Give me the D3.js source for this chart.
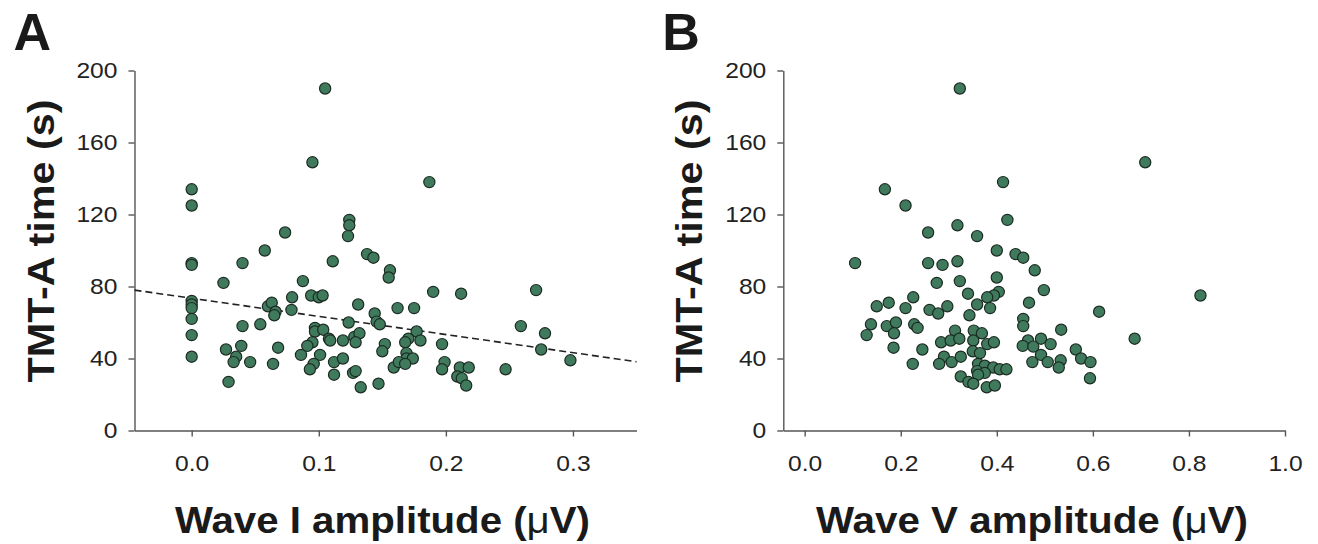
<!DOCTYPE html>
<html>
<head>
<meta charset="utf-8">
<script src="https://cdn.jsdelivr.net/npm/d3@7"></script>
<style>
  body { margin: 0; background: #fff; }
  svg { display: block; font-family: "Liberation Sans", Arial, sans-serif; }
  .axis path, .axis line { stroke: #555; stroke-width: 1.4; }
  .axis text { fill: #222; font-size: 22px; }
  .title { font-weight: bold; fill: #1a1a1a; font-size: 37px; }
  .letter { font-weight: bold; fill: #1a1a1a; font-size: 52px; }
</style>
</head>
<body>
<div id="container"></div>
<script>
// panel A: Wave I amplitude vs TMT-A time
var waveI = [0.105, 0.095, 0, 0, 0.0735, 0.124, 0.124, 0.123, 0.0575, 0.138, 0.187,
  0, 0, 0.040, 0.143, 0.111, 0.156, 0.155, 0.025, 0.0875, 0, 0, 0, 0, 0, 0,
  0.094, 0.100, 0.103, 0.079, 0.0785, 0.060, 0.063, 0.066, 0.065, 0.131, 0.144, 0.1455, 0.148, 0.1235,
  0.040, 0.054, 0.097, 0.097, 0.1035, 0.108, 0.109, 0.119, 0.095, 0.091, 0.128, 0.132, 0.129, 0.152,
  0.150, 0.027, 0.039, 0.035, 0.033, 0.046, 0.068, 0.064, 0.086, 0.101, 0.096, 0.093, 0.112, 0.119,
  0.112, 0.127, 0.129, 0.029, 0.133, 0.147, 0.159,
  0.190, 0.212, 0.271, 0.162, 0.175, 0.259, 0.278, 0.177, 0.180, 0.1705, 0.168, 0.197, 0.275, 0.298,
  0.169, 0.169, 0.174, 0.163, 0.168, 0.199, 0.197, 0.211, 0.218, 0.209, 0.2125, 0.216, 0.247];
var tmtA = [190, 149, 134, 125, 110, 117, 114, 108, 100, 98, 138,
  93, 92, 93, 96, 94, 89, 85, 82, 83, 72, 70, 68, 62, 53, 41,
  75, 74, 75, 74, 67, 69, 71, 66, 64, 70, 65, 60.5, 59, 60,
  58, 59, 57, 55, 56, 51, 50, 50, 49, 47, 52, 54, 49, 48,
  44, 45, 47, 41, 38, 38, 46, 37, 42, 42, 37, 34, 38, 40,
  31, 32, 33, 27, 24, 26, 35,
  77, 76, 78, 68, 68, 58, 54, 55, 50, 51, 49, 48, 45, 39,
  43, 40, 40, 38, 37, 38, 34, 35, 35, 30, 29, 25, 34];

// panel B: Wave V amplitude vs TMT-A time
var waveV = [0.323, 0.167, 0.210, 0.413, 0.257, 0.318, 0.422, 0.359, 0.400, 0.439, 0.709,
  0.455, 0.105, 0.257, 0.287, 0.318, 0.400, 0.275, 0.323, 0.340, 0.404, 0.394, 0.380, 0.359, 0.386,
  0.343, 0.226, 0.175, 0.150, 0.210, 0.260, 0.278, 0.297, 0.138, 0.129, 0.171, 0.190, 0.186, 0.185,
  0.228, 0.235, 0.245, 0.225, 0.313, 0.284, 0.304, 0.322, 0.352, 0.369, 0.351, 0.380, 0.394, 0.350,
  0.365, 0.290, 0.306, 0.280, 0.325, 0.361, 0.375, 0.3925, 0.406, 0.420, 0.359, 0.375, 0.361, 0.325,
  0.341, 0.351, 0.379, 0.396,
  0.479, 0.498, 0.467, 0.613, 0.824, 0.455, 0.455, 0.534, 0.687, 0.465, 0.492, 0.512, 0.454, 0.476,
  0.5645, 0.492, 0.5755, 0.595, 0.474, 0.506, 0.533, 0.529, 0.594];
var tmtB = [190, 134, 125, 138, 110, 114, 117, 108, 100, 98, 149,
  96, 93, 93, 92, 94, 85, 82, 83, 76, 77, 75, 74, 70, 68,
  64, 74, 71, 69, 68, 67, 65, 69, 59, 53, 58, 60, 54, 46,
  59, 57, 45, 37, 55.5, 49, 50, 51, 55.5, 54, 50, 48, 49, 44,
  43, 41, 38, 37, 41, 37, 36, 35, 34, 34, 33, 32, 31, 30,
  27, 26, 24, 25,
  89, 78, 71, 66, 75, 62, 58, 56, 51, 50, 51, 48, 47, 46.6,
  45, 42, 40, 38, 38, 38, 39, 35, 29];

// dashed fit line in panel A (end points)
var fitX = [-0.045, 0.35];
var fitY = [78, 38.2];

var ticksA = [0, 0.1, 0.2, 0.3];
var ticksB = [0, 0.2, 0.4, 0.6, 0.8, 1.0];
var ticksY = [0, 40, 80, 120, 160, 200];

var svg = d3.select("#container").append("svg")
  .attr("width", 1318)
  .attr("height", 544);

var yTop = 70.5, yBottom = 430.5;

function panel(opt) {
  var x = d3.scaleLinear().domain(opt.xDomain).range(opt.xRange);
  var y = d3.scaleLinear().domain([0, 200]).range([yBottom, yTop]);

  var xAxis = svg.append("g")
    .attr("class", "axis")
    .attr("transform", `translate(0, ${yBottom})`)
    .call(d3.axisBottom(x).tickValues(opt.xTicks).tickFormat(d3.format(".1f"))
      .tickSize(6).tickSizeOuter(0).tickPadding(19));
  xAxis.selectAll("text").attr("transform", "scale(1.12,1)");

  var yAxis = svg.append("g")
    .attr("class", "axis")
    .attr("transform", `translate(${opt.xRange[0]}, 0)`)
    .call(d3.axisLeft(y).tickValues(ticksY).tickSize(6).tickSizeOuter(0).tickPadding(11));
  yAxis.selectAll("text")
    .attr("x", -17 / 1.12)
    .attr("transform", "scale(1.12,1)");

  if (opt.fit) {
    svg.append("line")
      .attr("x1", x(opt.fit[0][0])).attr("y1", y(opt.fit[1][0]))
      .attr("x2", x(opt.fit[0][1])).attr("y2", y(opt.fit[1][1]))
      .attr("stroke", "#222")
      .attr("stroke-width", 1.6)
      .attr("stroke-dasharray", "7,4");
  }

  svg.append("g").selectAll("circle")
    .data(opt.xs.map((d, i) => [d, opt.ys[i]]))
    .enter()
    .append("circle")
    .attr("cx", d => x(d[0]))
    .attr("cy", d => y(d[1]))
    .attr("r", 5.6)
    .attr("fill", "#3f7a5d")
    .attr("stroke", "#1c2b22")
    .attr("stroke-width", 1.2);

  var xt = svg.append("text")
    .attr("class", "title")
    .attr("x", opt.xTitleX)
    .attr("y", 533)
    .attr("text-anchor", "middle")
    .attr("textLength", opt.xTitleLen)
    .attr("lengthAdjust", "spacingAndGlyphs");
  xt.append("tspan").text(opt.xTitle + " (");
  xt.append("tspan").style("font-weight", "normal").text("μ");
  xt.append("tspan").text("V)");

  svg.append("text")
    .attr("class", "title")
    .attr("transform", `translate(${opt.xRange[0] - 81}, 241) rotate(-90)`)
    .attr("text-anchor", "middle")
    .attr("textLength", 283)
    .attr("lengthAdjust", "spacingAndGlyphs")
    .text("TMT-A time (s)");

  svg.append("text")
    .attr("class", "letter")
    .attr("x", opt.xRange[0] - 121)
    .attr("y", 50)
    .text(opt.letter);
}

panel({
  letter: "A",
  xs: waveI, ys: tmtA,
  xDomain: [-0.045, 0.35], xRange: [134.5, 636.5],
  xTicks: ticksA,
  xTitle: "Wave I amplitude", xTitleX: 382.5, xTitleLen: 415,
  fit: [fitX, fitY]
});

panel({
  letter: "B",
  xs: waveV, ys: tmtB,
  xDomain: [-0.0445, 1.0], xRange: [783.3, 1285],
  xTicks: ticksB,
  xTitle: "Wave V amplitude", xTitleX: 1032, xTitleLen: 432
});
</script>
</body>
</html>
